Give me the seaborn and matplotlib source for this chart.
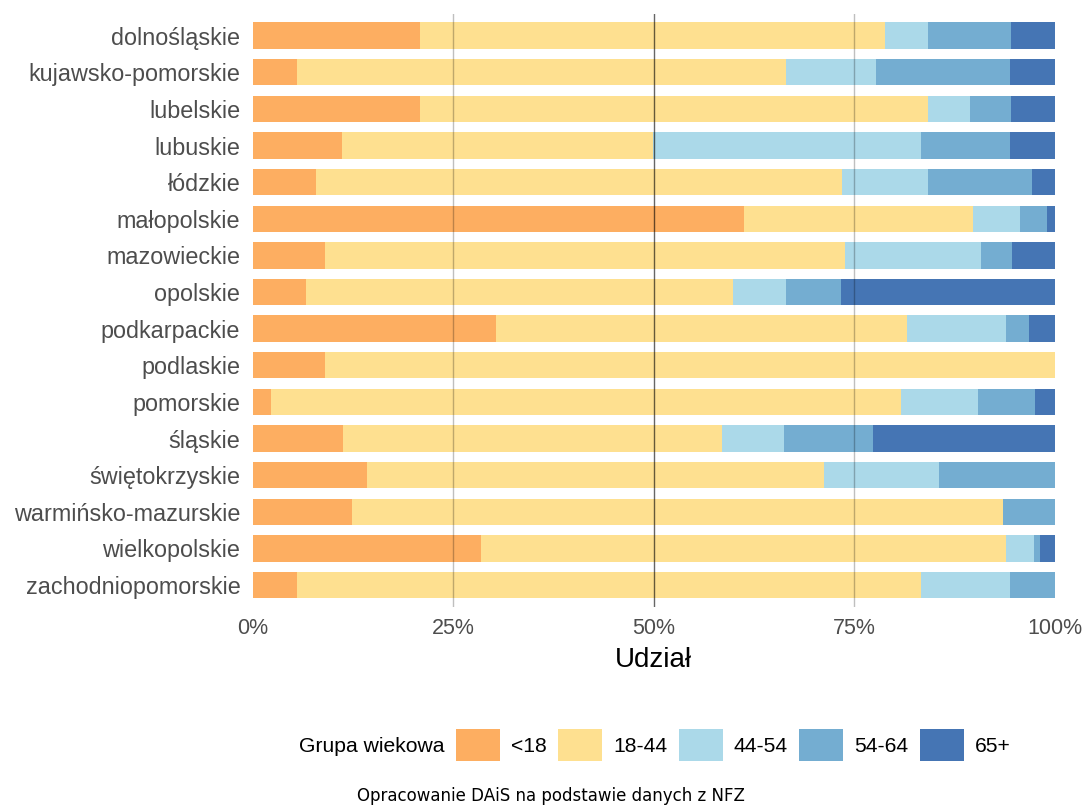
import matplotlib
matplotlib.use("Agg")
import matplotlib.pyplot as plt
from matplotlib.patches import Patch
import seaborn as sns
import numpy as np
import pandas as pd

regions = ["dolnośląskie", "kujawsko-pomorskie", "lubelskie", "lubuskie", "łódzkie",
           "małopolskie", "mazowieckie", "opolskie", "podkarpackie", "podlaskie",
           "pomorskie", "śląskie", "świętokrzyskie", "warmińsko-mazurskie",
           "wielkopolskie", "zachodniopomorskie"]
age_groups = ["<18", "18-44", "44-54", "54-64", "65+"]
colors = ["#FDAE61", "#FEE090", "#ABD9E9", "#74ADD1", "#4575B4"]

# share (%) per age group, same order as regions
under18 = [20.9, 5.5, 20.9, 11.1, 7.9, 61.2, 9.0, 6.6, 30.3, 9.0, 2.3, 11.2, 14.2, 12.4, 28.4, 5.5]
g18_44 = [57.9, 61.0, 63.3, 38.8, 65.6, 28.6, 64.9, 53.3, 51.3, 91.0, 78.6, 47.3, 57.1, 81.2, 65.5, 77.8]
g44_54 = [5.4, 11.2, 5.2, 33.4, 10.7, 5.9, 16.9, 6.6, 12.3, 0.0, 9.5, 7.7, 14.3, 0.0, 3.5, 11.1]
g54_64 = [10.4, 16.7, 5.2, 11.1, 13.0, 3.4, 3.9, 6.8, 2.9, 0.0, 7.1, 11.2, 14.4, 6.4, 0.8, 5.6]
g65 = [5.4, 5.6, 5.4, 5.6, 2.8, 0.9, 5.3, 26.7, 3.2, 0.0, 2.5, 22.6, 0.0, 0.0, 1.8, 0.0]

df = pd.DataFrame({"region": regions, "<18": under18, "18-44": g18_44,
                   "44-54": g44_54, "54-64": g54_64, "65+": g65})
cum = df[age_groups].cumsum(axis=1)

fig = plt.figure(figsize=(10.85, 8.05), dpi=100)
ax = fig.add_axes([0.233, 0.246, 0.739, 0.737])

# stacked bars: draw cumulative totals from the widest down
for grp, col in zip(age_groups[::-1], colors[::-1]):
    sns.barplot(x=cum[grp], y=df["region"], orient="h", color=col,
                saturation=1, width=0.72, ax=ax)

for v, a in [(25, 0.25), (50, 0.6), (75, 0.25)]:
    ax.axvline(v, color="black", alpha=a, lw=1, zorder=5)

ax.set_xlim(0, 100)
ax.set_ylim(15.6, -0.6)
ax.set_xticks([0, 25, 50, 75, 100])
ax.set_xticklabels(["0%", "25%", "50%", "75%", "100%"])
ax.tick_params(axis="both", length=0, labelcolor="#4D4D4D")
ax.tick_params(axis="x", pad=8, labelsize=15.5)
ax.tick_params(axis="y", pad=9, labelsize=16.8)
for lab in ax.get_xticklabels() + ax.get_yticklabels():
    lab.set_family("Liberation Sans")
ax.set_ylabel("")
ax.set_xlabel("Udział", fontsize=20, family="Liberation Sans", labelpad=6)
for s in ax.spines.values():
    s.set_visible(False)
ax.grid(False)

handles = [Patch(facecolor="none", edgecolor="none")] + [Patch(facecolor=c) for c in colors]
labels = ["Grupa wiekowa"] + age_groups
leg = fig.legend(handles, labels, ncol=6, loc="center", bbox_to_anchor=(0.578, 0.0745),
                 frameon=False, handlelength=2.08, handleheight=2.0, handletextpad=0.52,
                 columnspacing=0.55, prop={"family": "Liberation Sans", "size": 15.2})

fig.text(0.508, 0.0, "Opracowanie DAiS na podstawie danych z NFZ", ha="center", va="bottom",
         fontsize=12, family="DejaVu Sans")

fig.savefig("out.png", dpi=100)
